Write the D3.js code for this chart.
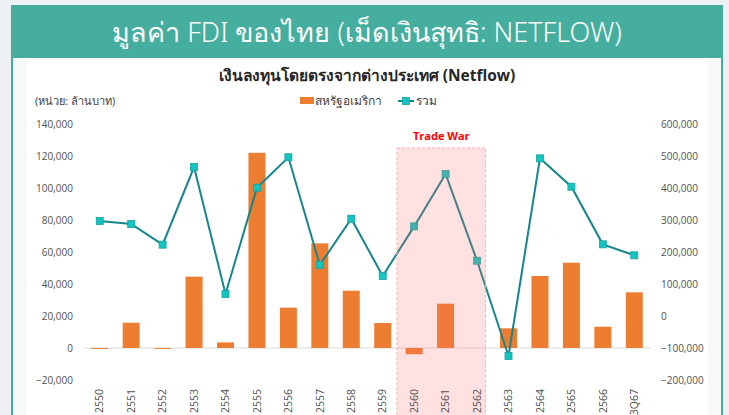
<!DOCTYPE html>
<html>
<head>
<meta charset="utf-8">
<script src="https://cdn.jsdelivr.net/npm/d3@7"></script>
<style>
  body { margin: 0; background: #eef1f3; }
  svg { display: block; }
  text { font-family: "Open Sans", "Noto Sans", sans-serif; }
</style>
</head>
<body>
<div id="chart"></div>
<script>
// categories (Thai years) and values
let categories = ["2550", "2551", "2552", "2553", "2554", "2555", "2556", "2557", "2558",
                  "2559", "2560", "2561", "2562", "2563", "2564", "2565", "2566", "3Q67"];
// USA FDI, left axis (million baht)
let usValues = [-600, 15800, -600, 44600, 3500, 122000, 25200, 65400, 35800,
                15600, -3900, 27700, 0, 12300, 45000, 53300, 13300, 34800];
// total FDI, right axis
let totalValues = [297000, 287500, 223000, 465600, 68750, 401000, 496000, 159400, 304000,
                   125000, 280000, 443750, 172800, -125000, 492700, 404000, 224000, 189700];
let leftTicks = [-20000, 0, 20000, 40000, 60000, 80000, 100000, 120000, 140000];
let rightTicks = [-200000, -100000, 0, 100000, 200000, 300000, 400000, 500000, 600000];
let tradeWar = ["2560", "2562"];

function fdiChart() {
    let width = 729, height = 415;
    let margin = {top: 124, right: 79, bottom: 35, left: 84};

    let svg = d3.select("#chart").append("svg")
                .attr("width", width)
                .attr("height", height);

    /* page frame */
    svg.append("rect").attr("x", 11).attr("y", 5).attr("width", 712).attr("height", 53).attr("fill", "#45ae9e");
    svg.append("rect").attr("x", 11).attr("y", 58).attr("width", 712).attr("height", 360).attr("fill", "#45ae9e");
    svg.append("rect").attr("x", 13).attr("y", 58).attr("width", 708).attr("height", 360).attr("fill", "#f6f8fa");
    svg.append("rect").attr("x", 27).attr("y", 58).attr("width", 681).attr("height", 360).attr("fill", "#ffffff");

    svg.append("text")
        .attr("x", 367).attr("y", 42)
        .attr("text-anchor", "middle")
        .attr("fill", "#ffffff")
        .attr("font-size", 27)
        .attr("font-weight", 300)
        .style("font-family", "'Noto Sans', sans-serif")
        .text("มูลค่า FDI ของไทย (เม็ดเงินสุทธิ: NETFLOW)");

    svg.append("text")
        .attr("x", 367).attr("y", 81)
        .attr("text-anchor", "middle")
        .attr("fill", "#262626")
        .attr("font-size", 15.5)
        .attr("font-weight", "bold")
        .text("เงินลงทุนโดยตรงจากต่างประเทศ (Netflow)");

    svg.append("text")
        .attr("x", 35).attr("y", 105)
        .attr("fill", "#404040")
        .attr("font-size", 11)
        .text("(หน่วย: ล้านบาท)");

    let xScale = d3.scaleBand()
                    .domain(categories)
                    .range([margin.left, width - margin.right])
                    .paddingInner(0.46)
                    .paddingOuter(0.23);

    let yLeft = d3.scaleLinear()
                    .domain([-20000, 140000])
                    .range([height - margin.bottom, margin.top]);

    let yRight = d3.scaleLinear()
                    .domain([-200000, 600000])
                    .range([height - margin.bottom, margin.top]);

    let cx = function(d) { return xScale(d) + xScale.bandwidth() / 2; };

    /* zero line */
    svg.append("line")
        .attr("x1", margin.left).attr("x2", width - margin.right)
        .attr("y1", yLeft(0)).attr("y2", yLeft(0))
        .attr("stroke", "#d9d9d9").attr("stroke-width", 1);

    /* bars */
    svg.selectAll(".bar")
        .data(categories)
        .enter()
        .append("rect")
        .attr("class", "bar")
        .attr("x", function(d) { return xScale(d); })
        .attr("width", xScale.bandwidth())
        .attr("y", function(d, i) { return yLeft(Math.max(0, usValues[i])); })
        .attr("height", function(d, i) { return Math.abs(yLeft(usValues[i]) - yLeft(0)); })
        .attr("fill", "#ed7d31");

    /* total line */
    let line = d3.line()
        .x(function(d, i) { return cx(categories[i]); })
        .y(function(d) { return yRight(d); });

    svg.append("path")
        .datum(totalValues)
        .attr("d", line)
        .attr("fill", "none")
        .attr("stroke", "#16868a")
        .attr("stroke-width", 2);

    svg.selectAll(".marker")
        .data(totalValues)
        .enter()
        .append("rect")
        .attr("class", "marker")
        .attr("x", function(d, i) { return cx(categories[i]) - 3.5; })
        .attr("y", function(d) { return yRight(d) - 3.5; })
        .attr("width", 7).attr("height", 7)
        .attr("fill", "#14c4c0")
        .attr("stroke", "#15a3a0")
        .attr("stroke-width", 0.8);

    /* trade war shading */
    let gap = xScale.step() - xScale.bandwidth();
    let twLeft = xScale(tradeWar[0]) - 0.6 * gap;
    let twRight = xScale(tradeWar[1]) + xScale.bandwidth();
    svg.append("rect")
        .attr("x", twLeft)
        .attr("y", yLeft(125000))
        .attr("width", twRight - twLeft)
        .attr("height", 300)
        .attr("fill", "#ff6b6b")
        .attr("fill-opacity", 0.2)
        .attr("stroke", "#ffb0b0")
        .attr("stroke-dasharray", "3,2");

    svg.append("text")
        .attr("x", (twLeft + twRight) / 2).attr("y", 140)
        .attr("text-anchor", "middle")
        .attr("fill", "#ff0000")
        .attr("font-size", 11)
        .attr("font-weight", "bold")
        .text("Trade War");

    /* axes */
    let leftAxis = d3.axisLeft(yLeft).tickValues(leftTicks).tickSize(0).tickPadding(11)
        .tickFormat(d3.format(","));
    svg.append("g")
        .attr("class", "axis")
        .attr("transform", "translate(" + margin.left + ",0)")
        .call(leftAxis);

    let rightAxis = d3.axisRight(yRight).tickValues(rightTicks).tickSize(0).tickPadding(11)
        .tickFormat(d3.format(","));
    svg.append("g")
        .attr("class", "axis")
        .attr("transform", "translate(" + (width - margin.right) + ",0)")
        .call(rightAxis);

    let xAxis = d3.axisBottom(xScale).tickSize(0).tickPadding(0);
    svg.append("g")
        .attr("class", "axis xAxis")
        .attr("transform", "translate(0," + (height - margin.bottom) + ")")
        .call(xAxis)
        .selectAll("text")
        .attr("transform", "rotate(-90)")
        .attr("text-anchor", "end")
        .attr("x", -9)
        .attr("y", 0)
        .attr("dy", "0.35em");

    svg.selectAll(".axis .domain").remove();
    svg.selectAll(".axis text")
        .attr("fill", "#505050")
        .attr("font-size", 10)
        .style("font-family", "'Open Sans', sans-serif");
    svg.selectAll(".xAxis text").attr("font-size", 10.5);

    /* legend */
    svg.append("rect").attr("x", 300).attr("y", 97).attr("width", 14).attr("height", 7).attr("fill", "#ed7d31");
    svg.append("text").attr("x", 315).attr("y", 105).attr("fill", "#404040").attr("font-size", 12).text("สหรัฐอเมริกา");
    svg.append("line").attr("x1", 398).attr("x2", 414).attr("y1", 101).attr("y2", 101)
        .attr("stroke", "#16868a").attr("stroke-width", 2);
    svg.append("rect").attr("x", 402.5).attr("y", 97.5).attr("width", 7).attr("height", 7)
        .attr("fill", "#14c4c0").attr("stroke", "#15a3a0").attr("stroke-width", 0.8);
    svg.append("text").attr("x", 416).attr("y", 105).attr("fill", "#404040").attr("font-size", 12).text("รวม");
}

fdiChart();
</script>
</body>
</html>
